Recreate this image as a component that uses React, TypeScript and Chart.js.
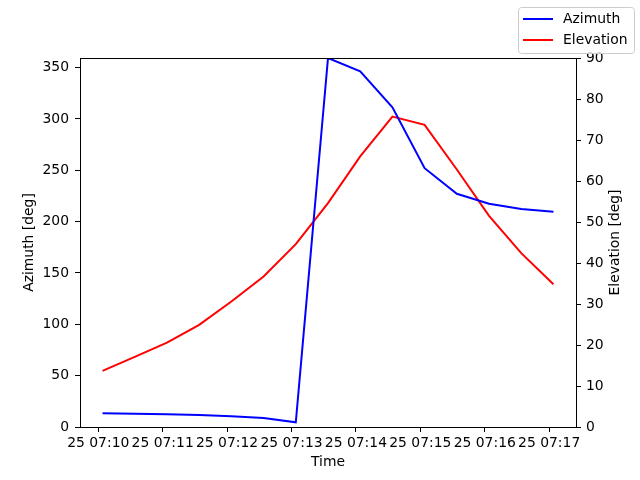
import React, { useEffect, useRef } from 'react';
import { Chart, registerables } from 'chart.js';

Chart.register(...registerables);

// sample times (HH:MM:SS), every 30 s
const sampleTimes = [
    '07:10:04', '07:10:34', '07:11:04', '07:11:34', '07:12:04',
    '07:12:34', '07:13:04', '07:13:34', '07:14:04', '07:14:34',
    '07:15:04', '07:15:34', '07:16:04', '07:16:34', '07:17:04'
];
const azimuth = [13.3, 12.8, 12.3, 11.6, 10.5, 8.8, 4.6, 359.4, 346.4, 311.4, 252.1, 227.2, 217.5, 212.4, 209.7];
const elevation = [13.7, 17.1, 20.6, 24.9, 30.6, 36.7, 44.6, 54.6, 66.0, 75.7, 73.7, 62.8, 51.5, 42.4, 34.8];
const xTickTimes = ['07:10', '07:11', '07:12', '07:13', '07:14', '07:15', '07:16', '07:17'];
const dayLabel = '25';
const rightTitle = 'Elevation [deg]';

const FONT = "'DejaVu Sans', sans-serif";
const SIZE = 13.9;

function toSec(t: string) {
    const p = t.split(':').map(Number);
    return p[0] * 3600 + p[1] * 60 + (p[2] || 0);
}

function fmt(v: number) {
    const h = Math.floor(v / 3600);
    const m = Math.floor((v % 3600) / 60);
    return dayLabel + ' ' + String(h).padStart(2, '0') + ':' + String(m).padStart(2, '0');
}

// black box around the plot, right axis title (bottom-to-top) and legend
const framePlugin = {
    id: 'frame',
    afterDraw(chart: any) {
        const { ctx, chartArea: a } = chart;
        ctx.save();
        ctx.strokeStyle = '#000';
        ctx.lineWidth = 1;
        ctx.strokeRect(Math.round(a.left) + 0.5, Math.round(a.top) + 0.5, Math.round(a.right - a.left), Math.round(a.bottom - a.top));

        ctx.font = SIZE + 'px ' + FONT;
        ctx.fillStyle = '#000';
        ctx.textAlign = 'center';
        ctx.textBaseline = 'middle';
        ctx.save();
        ctx.translate(615, (a.top + a.bottom) / 2);
        ctx.rotate(-Math.PI / 2);
        ctx.fillText(rightTitle, 0, 0);
        ctx.restore();

        // legend
        const bx = 518.5, by = 7.5, bw = 116, bh = 46, r = 3;
        ctx.beginPath();
        ctx.moveTo(bx + r, by);
        ctx.arcTo(bx + bw, by, bx + bw, by + bh, r);
        ctx.arcTo(bx + bw, by + bh, bx, by + bh, r);
        ctx.arcTo(bx, by + bh, bx, by, r);
        ctx.arcTo(bx, by, bx + bw, by, r);
        ctx.closePath();
        ctx.fillStyle = 'rgba(255,255,255,0.8)';
        ctx.fill();
        ctx.strokeStyle = '#cccccc';
        ctx.stroke();
        ctx.textAlign = 'left';
        chart.data.datasets.forEach((ds: any, i: number) => {
            const y = 19 + i * 21;
            ctx.strokeStyle = ds.borderColor;
            ctx.lineWidth = 2;
            ctx.beginPath();
            ctx.moveTo(523, y);
            ctx.lineTo(553, y);
            ctx.stroke();
            ctx.fillStyle = '#000';
            ctx.fillText(ds.label, 563, y);
        });
        ctx.restore();
    }
};

export default function App() {
    const canvas = useRef<HTMLCanvasElement>(null);

    useEffect(() => {
        document.body.style.margin = '0';
        const xs = sampleTimes.map(toSec);
        const span = xs[xs.length - 1] - xs[0];
        const xMin = xs[0] - span * 0.05;
        const xMax = xs[xs.length - 1] + span * 0.05;
        const tickFont = { family: FONT, size: SIZE };

        const chart = new Chart(canvas.current as HTMLCanvasElement, {
            type: 'line',
            data: {
                datasets: [
                    {
                        label: 'Azimuth',
                        data: xs.map((x, i) => ({ x, y: azimuth[i] })),
                        borderColor: '#0000ff',
                        borderWidth: 2,
                        pointRadius: 0,
                        yAxisID: 'y',
                        tension: 0
                    },
                    {
                        label: 'Elevation',
                        data: xs.map((x, i) => ({ x, y: elevation[i] })),
                        borderColor: '#ff0000',
                        borderWidth: 2,
                        pointRadius: 0,
                        yAxisID: 'y1',
                        tension: 0
                    }
                ]
            },
            options: {
                animation: false,
                responsive: true,
                maintainAspectRatio: false,
                layout: { padding: { top: 58, left: 0, right: 0, bottom: 0 } },
                plugins: { legend: { display: false }, tooltip: { enabled: false } },
                scales: {
                    x: {
                        type: 'linear',
                        min: xMin,
                        max: xMax,
                        afterBuildTicks: (s: any) => { s.ticks = xTickTimes.map(t => ({ value: toSec(t) })); },
                        afterFit: (s: any) => { s.height = 53; },
                        grid: { display: true, drawOnChartArea: false, drawTicks: true, tickLength: 5, color: '#000' },
                        border: { display: true, color: '#000' },
                        ticks: {
                            autoSkip: false, maxRotation: 0, padding: 3, color: '#000', font: tickFont,
                            callback: (v: any) => fmt(Number(v))
                        },
                        title: { display: true, text: 'Time', color: '#000', font: tickFont, padding: { top: 0, bottom: 9 } }
                    },
                    y: {
                        position: 'left',
                        min: 0,
                        max: Math.max(...azimuth),
                        afterFit: (s: any) => { s.width = 80; },
                        grid: { display: true, drawOnChartArea: false, drawTicks: true, tickLength: 5, color: '#000' },
                        border: { display: true, color: '#000' },
                        ticks: { stepSize: 50, padding: 6, color: '#000', font: tickFont, includeBounds: false },
                        title: { display: true, text: 'Azimuth [deg]', color: '#000', font: tickFont, padding: { top: 21, bottom: 0 } }
                    },
                    y1: {
                        position: 'right',
                        min: 0,
                        max: 90,
                        afterFit: (s: any) => { s.width = 64; },
                        grid: { display: true, drawOnChartArea: false, drawTicks: true, tickLength: 5, color: '#000' },
                        border: { display: true, color: '#000' },
                        ticks: { stepSize: 10, padding: 5, color: '#000', font: tickFont }
                    }
                }
            },
            plugins: [framePlugin]
        } as any);
        return () => {
            chart.destroy();
        };
    }, []);

    return (
        <div style={{ width: 640, height: 480, position: 'relative' }}>
            <canvas ref={canvas} />
        </div>
    );
}
